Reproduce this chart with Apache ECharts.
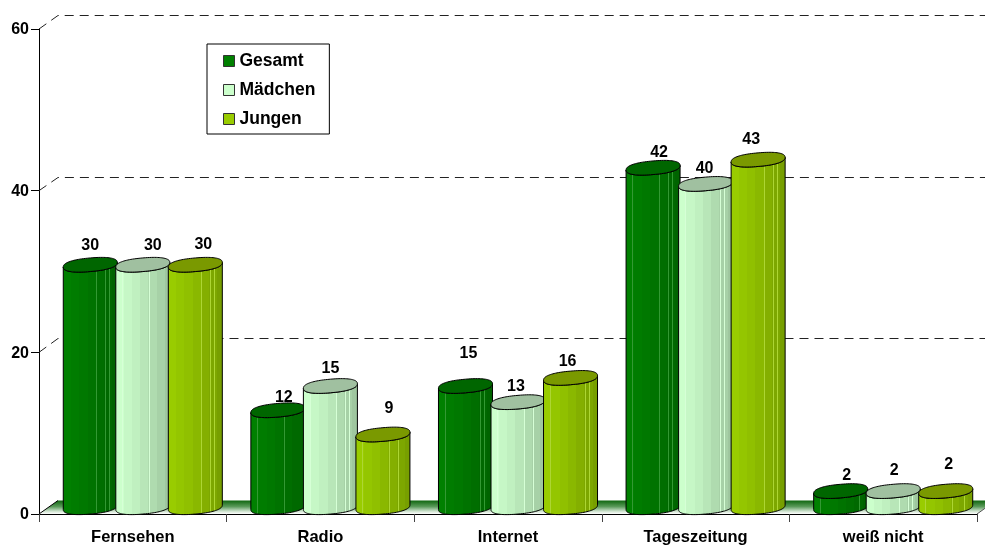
<!DOCTYPE html>
<html>
<head>
<meta charset="utf-8">
<style>html,body{margin:0;padding:0;background:#fff}#chart{width:985px;height:546px}</style>
<script src="https://cdn.jsdelivr.net/npm/echarts@6/dist/echarts.min.js"></script>
</head>
<body>
<div id="chart"></div>
<script>
// Mediennutzung nach Geschlecht, Angaben in Prozent
const categories = ['Fernsehen', 'Radio', 'Internet', 'Tageszeitung', 'weiß nicht'];
const gesamt = [30, 12, 15, 42, 2];
const maedchen = [30, 15, 13, 40, 2];
const jungen = [30, 9, 16, 43, 2];
const yTicks = [20, 40, 60];

// Pixel offsets of each value label from the centre of its cylinder's lid
const gesamtLabelShift = [[0, -19], [6, -13], [3, -32], [6, -15], [6, -15]];
const maedchenLabelShift = [[10, -19], [0, -17], [-2, -16], [-1, -15], [1, -20]];
const jungenLabelShift = [[8, -20], [6, -26], [-3, -16], [-7, -20], [3, -26]];

const FONT = '"Liberation Sans", Arial, sans-serif';
const DEPTH_X = 19, DEPTH_Y = -13.5;   // depth of the floor and back wall
const PITCH = 0.28;                    // cylinder spacing as a share of a category band
const RX = 27, RY = 6.8, TILT = 2.3;   // sheared ellipse of lid and base
const ROUNDNESS = 0.85;                // below 1 squares the ellipse off slightly

function shade(hex, f) {
  const n = parseInt(hex.slice(1), 16);
  const c = [n >> 16, (n >> 8) & 255, n & 255].map(v => Math.round(v * f));
  return `rgb(${c[0]},${c[1]},${c[2]})`;
}
function lighten(hex, f) {
  const n = parseInt(hex.slice(1), 16);
  const c = [n >> 16, (n >> 8) & 255, n & 255].map(v => Math.round(v + (255 - v) * f));
  return `rgb(${c[0]},${c[1]},${c[2]})`;
}

// Stepped horizontal shading of a cylinder wall with thin lighter streaks
function wallGradient(color) {
  const bands = [[0, 1], [0.15, 0.97], [0.3, 0.94], [0.45, 0.9], [0.6, 0.86], [0.75, 0.82], [0.9, 0.78]];
  const streaks = [0.125, 0.61, 0.77, 0.84];
  const stops = [];
  const factor = p => {
    let f = 1;
    for (const b of bands) if (b[0] <= p) f = b[1];
    return f;
  };
  const marks = [...bands.map(b => b[0])];
  streaks.forEach(s => marks.push(s, s + 0.014));
  marks.sort((a, b) => a - b);
  marks.forEach((m, i) => {
    const end = i + 1 < marks.length ? marks[i + 1] : 1;
    const isStreak = streaks.some(s => Math.abs(s - m) < 1e-6);
    const col = isStreak ? lighten(color, 0.2) : shade(color, factor(m));
    stops.push({ offset: m, color: col }, { offset: end, color: col });
  });
  return { type: 'linear', x: 0, y: 0, x2: 1, y2: 0, colorStops: stops };
}

function ellipsePoint(cx, cy, t) {
  const c = Math.cos(t), s = Math.sin(t);
  const u = Math.sign(c) * Math.pow(Math.abs(c), ROUNDNESS);
  const v = Math.sign(s) * Math.pow(Math.abs(s), ROUNDNESS);
  return [cx + RX * u, cy - TILT * u + RY * v];
}

function cylinderSeries(name, values, shifts, color, lidColor, slot) {
  return {
    name,
    type: 'custom',
    z: 5,
    itemStyle: { color },
    data: values.map((v, i) => [i, v]),
    encode: { x: 0, y: 1 },
    renderItem(params, api) {
      const idx = api.value(0), val = api.value(1);
      const band = api.size([1, 0])[0];
      const foot = api.coord([idx, 0]);
      const head = api.coord([idx, val]);
      const cx = foot[0] + DEPTH_X / 2 + 0.5 + slot * band * PITCH;
      const baseY = foot[1] + DEPTH_Y / 2;
      const topY = head[1] + DEPTH_Y / 2;
      const wall = [], lid = [];
      const N = 48;
      for (let k = 0; k <= N; k++) wall.push(ellipsePoint(cx, baseY, Math.PI * (1 - k / N)));
      for (let k = 0; k <= N; k++) wall.push(ellipsePoint(cx, topY, Math.PI * k / N));
      for (let k = 0; k < N * 2; k++) lid.push(ellipsePoint(cx, topY, Math.PI * k / N));
      const shift = shifts[idx];
      return {
        type: 'group',
        children: [
          { type: 'polygon', shape: { points: wall }, style: { fill: wallGradient(color), stroke: '#000', lineWidth: 1 } },
          { type: 'polygon', shape: { points: lid }, style: { fill: lidColor, stroke: '#000', lineWidth: 1 } },
          {
            type: 'text', z2: 100,
            style: {
              text: String(val), x: cx + shift[0], y: topY + shift[1],
              align: 'center', verticalAlign: 'middle',
              font: 'bold 16px ' + FONT, fill: '#000'
            }
          }
        ]
      };
    }
  };
}

// Floor of the plot box with its green fade
const floorSeries = {
  type: 'custom', z: 1, silent: true, legendHoverLink: false,
  data: [[0, 0]], encode: { x: 0, y: 1 },
  renderItem(params, api) {
    const cs = params.coordSys;
    const y = api.coord([0, 0])[1];
    const l = cs.x, r = cs.x + cs.width;
    return {
      type: 'group',
      children: [
        {
          type: 'polygon',
          shape: { points: [[l, y], [l + DEPTH_X, y + DEPTH_Y], [r + DEPTH_X, y + DEPTH_Y], [r, y]] },
          style: {
            fill: { type: 'linear', x: 0, y: 0, x2: 0, y2: 1, colorStops: [
              { offset: 0, color: '#0f660f' }, { offset: 0.45, color: '#5a9a5a' },
              { offset: 0.8, color: '#cfe3cf' }, { offset: 1, color: '#ffffff' }
            ] }
          }
        },
        { type: 'line', shape: { x1: l, y1: y, x2: l + DEPTH_X, y2: y + DEPTH_Y }, style: { stroke: '#000', lineWidth: 1 } },
        { type: 'line', shape: { x1: r, y1: y, x2: r + DEPTH_X, y2: y + DEPTH_Y }, style: { stroke: '#555', lineWidth: 1 } }
      ]
    };
  }
};

// Dashed grid lines running up the side wall and along the back wall,
// snapped to the pixel grid so the dashes stay crisp
const wallGridSeries = {
  type: 'custom', z: 1, silent: true,
  data: yTicks.map(v => [0, v]), encode: { x: 0, y: 1 },
  renderItem(params, api) {
    const cs = params.coordSys;
    const y = api.coord([0, api.value(1)])[1];
    const backY = Math.floor(y + DEPTH_Y) + 0.5;
    return {
      type: 'polyline',
      shape: { points: [[cs.x, y], [cs.x + DEPTH_X, backY], [cs.x + cs.width + DEPTH_X, backY]] },
      style: { fill: 'none', stroke: '#222', lineWidth: 1, lineDash: [9, 6] }
    };
  }
};

const chart = echarts.init(document.getElementById('chart'), null, { renderer: 'canvas' });
chart.setOption({
  animation: false,
  backgroundColor: '#fff',
  grid: { left: 39, top: 29, width: 938, height: 487, containLabel: false },
  legend: {
    left: 207, top: 44,
    orient: 'vertical',
    icon: 'rect',
    itemWidth: 11, itemHeight: 11, itemGap: 11,
    padding: [8, 14, 6, 16],
    backgroundColor: '#fff',
    borderColor: '#000', borderWidth: 1,
    selectedMode: false,
    itemStyle: { borderColor: '#333', borderWidth: 1 },
    textStyle: { fontFamily: FONT, fontWeight: 'bold', fontSize: 17.5, color: '#000' },
    data: ['Gesamt', 'Mädchen', 'Jungen']
  },
  xAxis: {
    type: 'category',
    data: categories,
    boundaryGap: true,
    axisLine: { show: true, lineStyle: { color: '#000', width: 1 } },
    axisTick: { show: true, length: 8, alignWithLabel: false, lineStyle: { color: '#444', width: 1 } },
    axisLabel: { margin: 15, interval: 0, fontFamily: FONT, fontWeight: 'bold', fontSize: 16.5, color: '#000' },
    splitLine: { show: false }
  },
  yAxis: {
    type: 'value',
    min: 0, max: 60, interval: 20,
    axisLine: { show: true, lineStyle: { color: '#000', width: 1 } },
    axisTick: { show: true, length: 8, lineStyle: { color: '#000', width: 1 } },
    axisLabel: {
      margin: 10,
      formatter: '{t|{value}}',
      rich: { t: { fontFamily: FONT, fontWeight: 'bold', fontSize: 16, color: '#000', padding: [2, 0, 0, 0] } }
    },
    splitLine: { show: false }
  },
  series: [
    floorSeries,
    wallGridSeries,
    cylinderSeries('Gesamt', gesamt, gesamtLabelShift, '#008000', '#006600', -1),
    cylinderSeries('Mädchen', maedchen, maedchenLabelShift, '#CCFFCC', '#A0C0A0', 0),
    cylinderSeries('Jungen', jungen, jungenLabelShift, '#99CC00', '#7A9900', 1)
  ]
});
</script>
</body>
</html>
